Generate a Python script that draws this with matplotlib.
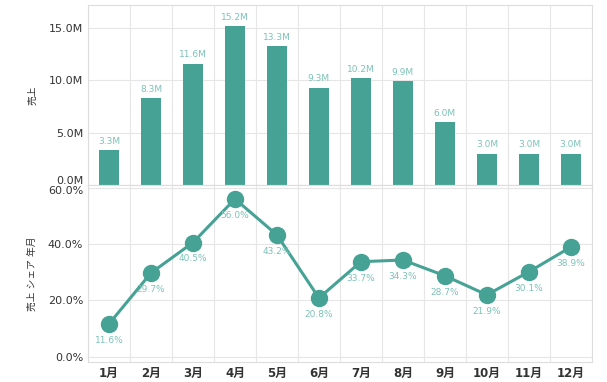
import matplotlib
matplotlib.use("Agg")
import matplotlib.pyplot as plt
import matplotlib.transforms as mtransforms
import numpy as np

plt.rcParams['font.family'] = ['DejaVu Sans', 'Noto Sans CJK JP']

months = ['1月', '2月', '3月', '4月', '5月', '6月', '7月', '8月', '9月', '10月', '11月', '12月']
sales_m = [3.3, 8.3, 11.6, 15.2, 13.3, 9.3, 10.2, 9.9, 6.0, 3.0, 3.0, 3.0]
share_pct = [11.6, 29.7, 40.5, 56.0, 43.2, 20.8, 33.7, 34.3, 28.7, 21.9, 30.1, 38.9]

teal = '#45a294'
label_col = '#7cc2b8'
grid_col = '#e6e6e6'
tick_col = '#333333'

fig = plt.figure(figsize=(6.07, 3.82), dpi=100)
ax1 = fig.add_axes([0.145, 0.516, 0.83, 0.471])
ax2 = fig.add_axes([0.145, 0.052, 0.83, 0.464])

x = np.arange(len(months))

def style(ax):
    ax.set_xlim(-0.5, len(months) - 0.5)
    ax.set_xticks(np.arange(len(months) + 1) - 0.5, minor=True)
    ax.grid(True, which='minor', axis='x', color=grid_col, lw=0.8)
    ax.grid(True, which='major', axis='y', color=grid_col, lw=0.8)
    ax.set_axisbelow(True)
    for s in ax.spines.values():
        s.set_color('#dddddd')
        s.set_linewidth(0.8)
    ax.tick_params(which='both', length=0, colors=tick_col, labelsize=8)

# top: bars
style(ax1)
ax1.bar(x, sales_m, width=0.48, color=teal)
for xi, v in zip(x, sales_m):
    ax1.text(xi, v + 0.4, f'{v:.1f}M', ha='center', va='bottom', fontsize=6.5, color=label_col)
ax1.set_ylim(0, 17.2)
ax1.set_yticks([0, 5, 10, 15])
ax1.set_yticklabels(['0.0M', '5.0M', '10.0M', '15.0M'])
ax1.set_xticks(x)
ax1.set_xticklabels([])
ax1.set_ylabel('売上', fontsize=7, color=tick_col, labelpad=8)
lab0 = ax1.get_yticklabels()[0]
lab0.set_transform(lab0.get_transform() + mtransforms.ScaledTranslation(0, 5 / 100, fig.dpi_scale_trans))

# bottom: line
style(ax2)
ax2.plot(x, share_pct, color=teal, lw=2.2, marker='o', markersize=11.5, zorder=3)
for xi, v in zip(x, share_pct):
    ax2.text(xi, v - 5.8, f'{v:.1f}%', ha='center', va='center', fontsize=6.5, color=label_col, zorder=4)
ax2.set_ylim(-2, 61)
ax2.set_yticks([0, 20, 40, 60])
ax2.set_yticklabels(['0.0%', '20.0%', '40.0%', '60.0%'])
ax2.set_xticks(x)
ax2.set_xticklabels(months, fontsize=8.5, fontweight='bold')
ax2.set_ylabel('売上 シェア 年月', fontsize=7, color=tick_col, labelpad=8)
lab60 = ax2.get_yticklabels()[-1]
lab60.set_transform(lab60.get_transform() + mtransforms.ScaledTranslation(0, -2 / 100, fig.dpi_scale_trans))

fig.savefig('out.png', dpi=100)
